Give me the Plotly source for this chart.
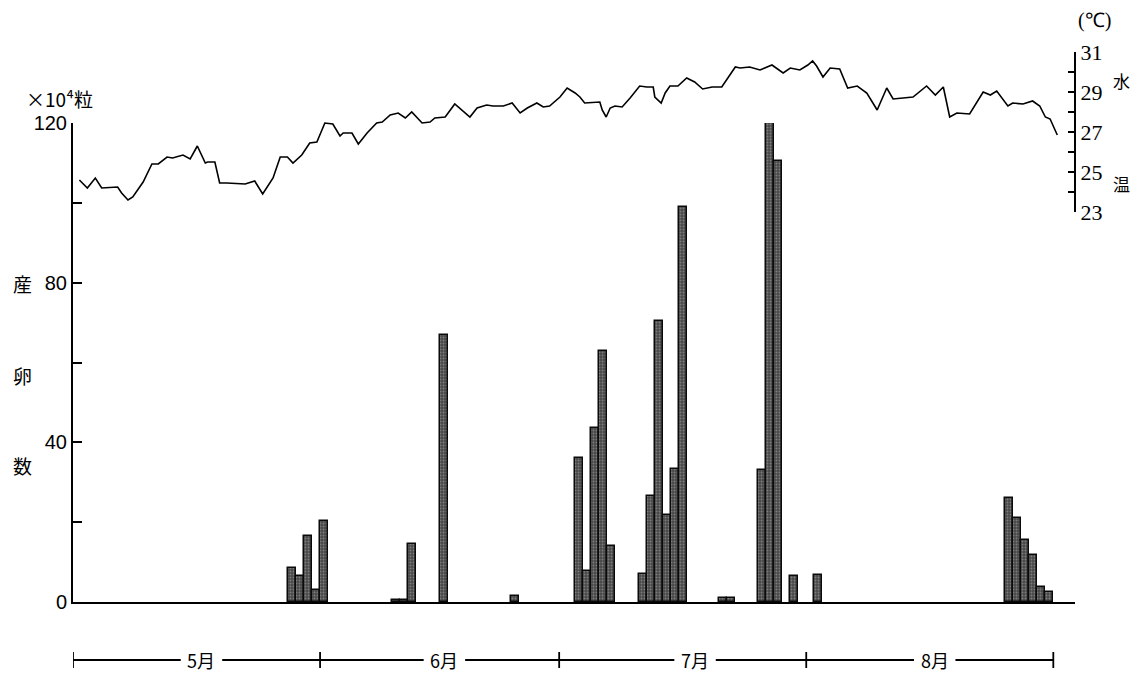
import plotly.graph_objects as go

# ---- data ----
# egg counts (x10^4 grains); day index 1 = May 1
bar_day = [28, 29, 30, 31, 32,
           41, 42, 43, 47, 56,
           64, 65, 66, 67, 68,
           72, 73, 74, 75, 76, 77,
           82, 83,
           87, 88, 89,
           91, 94,
           118, 119, 120, 121, 122, 123]
bar_val = [8.5, 6.5, 16.6, 3.0, 20.4,
           0.6, 0.6, 14.6, 67.0, 1.5,
           36.2, 7.8, 43.5, 63.0, 14.0,
           7.0, 26.6, 70.4, 21.9, 33.4, 99.0,
           1.0, 1.0,
           33.0, 120.0, 110.5,
           6.5, 6.8,
           26.1, 21.1, 15.6, 11.8, 3.8, 2.5]

# water temperature (deg C) vertices
temp_day = [1.3, 2.3, 3.3, 4.1, 6.1, 6.6, 7.4, 8.0, 9.3, 10.4, 11.2, 12.3, 13.0, 14.3, 15.2,
            16.1, 17.1, 17.4, 18.3, 18.9, 19.8, 22.1, 23.3, 24.3, 25.6, 26.5, 27.4, 28.1,
            29.2, 30.2, 31.1, 32.1, 33.1, 34.0, 34.4, 35.5, 36.3, 37.4, 38.6, 39.3, 40.3,
            41.3, 42.2, 43.0, 44.3, 45.3, 45.9, 47.2, 48.4, 49.3, 50.3, 51.2, 52.4, 53.2,
            54.5, 55.6, 56.6, 57.5, 58.7, 59.5, 60.3, 61.6, 62.5, 63.5, 64.1, 64.7, 66.6,
            66.9, 67.4, 67.9, 68.5, 69.4, 70.4, 71.6, 72.5, 73.3, 73.5, 74.3, 74.8, 75.4,
            76.4, 77.5, 78.5, 79.5, 80.7, 81.9, 82.7, 83.6, 84.2, 85.4, 86.7, 88.2, 89.6,
            90.5, 91.7, 92.7, 93.3, 93.8, 94.6, 95.5, 96.7, 97.7, 98.9, 100.1, 101.4,
            102.6, 103.4, 104.6, 105.9, 107.6, 108.7, 109.7, 110.5, 111.4, 113.0, 114.7,
            115.6, 116.4, 117.8, 118.4, 119.7, 120.9, 121.8, 122.5, 123.1, 124.0]
temp_c = [24.6, 24.2, 24.7, 24.2, 24.25, 23.95, 23.6, 23.75, 24.5, 25.4, 25.4, 25.75, 25.7, 25.85, 25.65,
          26.3, 25.45, 25.5, 25.5, 24.45, 24.45, 24.4, 24.55, 23.9, 24.7, 25.75, 25.75, 25.45,
          25.85, 26.45, 26.5, 27.45, 27.4, 26.8, 26.95, 26.95, 26.4, 26.95, 27.45, 27.5, 27.85,
          27.95, 27.7, 28.0, 27.45, 27.5, 27.7, 27.75, 28.4, 28.1, 27.75, 28.2, 28.35, 28.3,
          28.3, 28.45, 27.95, 28.2, 28.45, 28.25, 28.3, 28.75, 29.2, 28.95, 28.75, 28.45, 28.5,
          28.1, 27.75, 28.2, 28.3, 28.25, 28.7, 29.3, 29.25, 29.25, 28.75, 28.45, 28.95, 29.3,
          29.3, 29.7, 29.5, 29.15, 29.25, 29.25, 29.75, 30.25, 30.2, 30.25, 30.1, 30.35, 29.95,
          30.2, 30.1, 30.35, 30.55, 30.3, 29.75, 30.2, 30.15, 29.2, 29.3, 28.95, 28.1,
          29.2, 28.65, 28.7, 28.75, 29.3, 28.85, 29.25, 27.75, 27.95, 27.9, 29.0,
          28.85, 29.05, 28.3, 28.45, 28.4, 28.55, 28.3, 27.75, 27.65, 26.85]

month_names = ["5月", "6月", "7月", "8月"]
month_days = [31, 30, 31, 31]

egg_ticks = [0, 20, 40, 60, 80, 100, 120]
egg_labels = ["0", "", "40", "", "80", "", "120"]
temp_ticks = [23, 24, 25, 26, 27, 28, 29, 30, 31]
temp_labels = ["23", "", "25", "", "27", "", "29", "", "31"]

# ---- figure geometry (target pixel positions; page body adds 8px offset) ----
OFF = 8
W, H = 1143, 691
X_LEFT, X_RIGHT, Y_TOP, Y_BASE = 73, 1075, 40, 602
L = X_LEFT - OFF
R = W - (X_RIGHT - OFF)
T = Y_TOP - OFF
B = H - (Y_BASE - OFF)
PW, PH = X_RIGHT - X_LEFT, Y_BASE - Y_TOP
px_per_day = 7.97


def py(pix):  # target pixel y -> paper y
    return (Y_BASE - pix) / PH


def px(pix):  # target pixel x -> paper x
    return (pix - X_LEFT) / PW


fig = go.Figure()
fig.add_trace(go.Bar(
    x=bar_day, y=bar_val, width=1.0, yaxis="y", xaxis="x", showlegend=False,
    marker=dict(color="#484848", line=dict(color="#0a0a0a", width=1.5),
                pattern=dict(shape=".", fgcolor="#b4b4b4", bgcolor="#484848",
                             size=3, solidity=0.3)),
))
fig.add_trace(go.Scatter(
    x=temp_day, y=temp_c, mode="lines", yaxis="y2", xaxis="x", showlegend=False,
    line=dict(color="black", width=1.6),
))

x_max = 0.5 + PW / px_per_day

shapes = []
annotations = []
start = 0.5
label_frac = [0.52, 0.52, 0.55, 0.52]
gap = 2.6
yb = py(660)
tick_h = 8 / PH
for name, nd, fr in zip(month_names, month_days, label_frac):
    end = start + nd
    c = start + fr * nd
    shapes.append(dict(type="line", xref="x", yref="paper", x0=start, x1=c - gap, y0=yb, y1=yb,
                       line=dict(color="black", width=1.8)))
    shapes.append(dict(type="line", xref="x", yref="paper", x0=c + gap, x1=end, y0=yb, y1=yb,
                       line=dict(color="black", width=1.8)))
    shapes.append(dict(type="line", xref="x", yref="paper", x0=start, x1=start, y0=yb - tick_h, y1=yb + tick_h,
                       line=dict(color="black", width=1.8)))
    annotations.append(dict(x=c, y=yb, xref="x", yref="paper", text=name, showarrow=False,
                            xanchor="center", yanchor="middle",
                            font=dict(size=18, family="Noto Sans CJK JP", color="black")))
    start = end
shapes.append(dict(type="line", xref="x", yref="paper", x0=start, x1=start, y0=yb - tick_h, y1=yb + tick_h,
                   line=dict(color="black", width=1.8)))

cjk = "Noto Sans CJK JP"


def note(text, x, y, size, family=cjk, xanchor="center"):
    return dict(x=px(x), y=py(y), xref="paper", yref="paper", text=text, showarrow=False,
                xanchor=xanchor, yanchor="middle", font=dict(size=size, family=family, color="black"))


annotations += [
    note("×10⁴粒", 24, 98, 19, xanchor="left"),
    note("産", 22, 283, 19),
    note("卵", 22, 375, 19),
    note("数", 22, 465, 19),
    note("(℃)", 1094, 21, 20, family="Liberation Serif"),
    note("水", 1121, 80, 17),
    note("温", 1121, 183, 17),
]

fig.update_layout(
    width=W, height=H, margin=dict(l=L, r=R, t=T, b=B),
    paper_bgcolor="white", plot_bgcolor="rgba(0,0,0,0)",
    bargap=0, showlegend=False,
    xaxis=dict(range=[0.5, x_max], showline=True, linecolor="black", linewidth=2,
               showticklabels=False, ticks="", showgrid=False, zeroline=False, anchor="y"),
    yaxis=dict(range=[0, 120], domain=[0, py(123)], showline=True, linecolor="black", linewidth=2,
               ticks="inside", ticklen=9, tickwidth=2, tickcolor="black",
               tickvals=egg_ticks, ticktext=egg_labels, showgrid=False, zeroline=False,
               tickfont=dict(size=20, family="Liberation Sans", color="black")),
    yaxis2=dict(range=[23, 31], domain=[py(212), py(52)], anchor="free", position=1.0, side="right",
                showline=True, linecolor="black", linewidth=2,
                ticks="inside", ticklen=6, tickwidth=2, tickcolor="black",
                tickvals=temp_ticks, ticktext=temp_labels, showgrid=False, zeroline=False,
                tickfont=dict(size=22, family="Liberation Serif", color="black")),
    shapes=shapes, annotations=annotations,
)

fig.write_html("out.html")
